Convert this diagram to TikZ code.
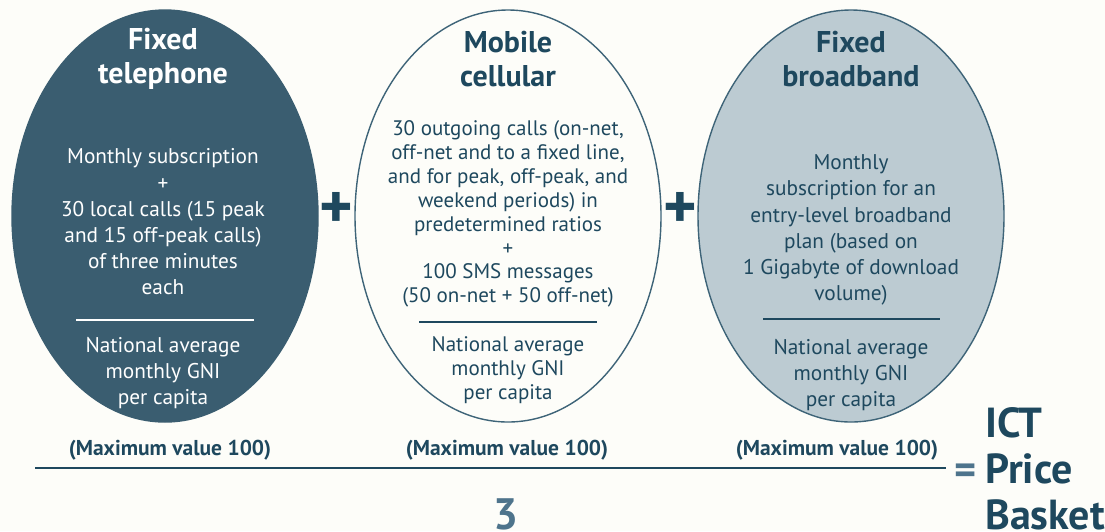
\documentclass[tikz,border=0pt]{standalone}
\usepackage{fontspec}
\setmainfont{PT Sans}
\usetikzlibrary{shapes.geometric}
\definecolor{bgc}{RGB}{253,253,249}
\definecolor{darkfill}{RGB}{58,93,112}
\definecolor{darktext}{RGB}{30,72,94}
\definecolor{lightfill}{RGB}{188,203,210}
\definecolor{outline}{RGB}{62,100,120}
\definecolor{softblue}{RGB}{78,116,140}
\tikzset{
  oval/.style={ellipse, inner sep=0pt, minimum width=306pt, minimum height=412pt, line width=1.4pt},
  title/.style={align=center, font=\fontsize{30}{34}\selectfont\bfseries},
  body/.style={align=center, font=\fontsize{21.3}{26.2}\selectfont},
  bodym/.style={align=center, font=\fontsize{21}{23.9}\selectfont},
  maxlab/.style={font=\fontsize{21.5}{22}\selectfont\bfseries, text=darktext},
  plussign/.style={font=\fontsize{64}{64}\selectfont\bfseries, text=darktext},
  rule/.style={line width=1.5pt},
}
\begin{document}
\begin{tikzpicture}[x=1pt,y=-1pt]
\fill[bgc] (0,0) rectangle (1105,531);
\useasboundingbox (0,0) rectangle (1105,531);

% ellipses
\node[oval, fill=darkfill, draw=darkfill] (e1) at (165,216) {};
\node[oval, fill=bgc, draw=outline] (e2) at (508,216) {};
\node[oval, fill=lightfill, draw=outline] (e3) at (851,216) {};

% titles
\node[title, text=white] (t1) at (163,59) {Fixed\\telephone};
\node[title, text=darktext] (t2) at (508,59) {Mobile\\cellular};
\node[title, text=darktext] (t3) at (851,59) {Fixed\\broadband};

% numerators
\node[body, text=white] (n1) at (163,222) {Monthly subscription\\+\\30 local calls (15 peak\\and 15 off-peak calls)\\of three minutes\\each};
\node[bodym, text=darktext] (n2) at (508,214) {30 outgoing calls (on-net,\\off-net and to a fixed line,\\and for peak, off-peak, and\\weekend periods) in\\predetermined ratios\\+\\100 SMS messages\\(50 on-net + 50 off-net)};
\node[body, text=darktext] (n3) at (851,230) {Monthly\\subscription for an\\entry-level broadband\\plan (based on\\1 Gigabyte of download\\volume)};

% division rules
\coordinate (r1a) at (76,320); \coordinate (r1b) at (254,320);
\coordinate (r2a) at (419,322); \coordinate (r2b) at (597,322);
\coordinate (r3a) at (763,319); \coordinate (r3b) at (940,319);
\draw[rule, white] (r1a) -- (r1b);
\draw[rule, darktext] (r2a) -- (r2b);
\draw[rule, darktext] (r3a) -- (r3b);

% denominators
\node[body, text=white] (d1) at (163,373) {National average\\monthly GNI\\per capita};
\node[bodym, text=darktext] (d2) at (508,370) {National average\\monthly GNI\\per capita};
\node[body, text=darktext] (d3) at (851,375) {National average\\monthly GNI\\per capita};

% plus signs
\node[plussign] (p1) at (336,210) {+};
\node[plussign] (p2) at (680,210) {+};

% max labels
\node[maxlab] (m1) at (170,450) {(Maximum value 100)};
\node[maxlab] (m2) at (507,450) {(Maximum value 100)};
\node[maxlab] (m3) at (837,450) {(Maximum value 100)};

% fraction line
\coordinate (fl) at (35,468);
\coordinate (fr) at (946,468);
\draw[line width=2pt, darktext] (fl) -- (fr);

\node[font=\fontsize{44}{44}\selectfont\bfseries, text=softblue] (three) at (506,514) {3};
\node[font=\fontsize{42}{42}\selectfont\bfseries, text=softblue] (eq) at (966,474) {=};
\node[anchor=north west, align=left, inner sep=0pt, font=\fontsize{42}{46}\selectfont\bfseries, text=darktext] (ict) at (985,407) {ICT\\Price\\Basket};
\end{tikzpicture}
\end{document}
